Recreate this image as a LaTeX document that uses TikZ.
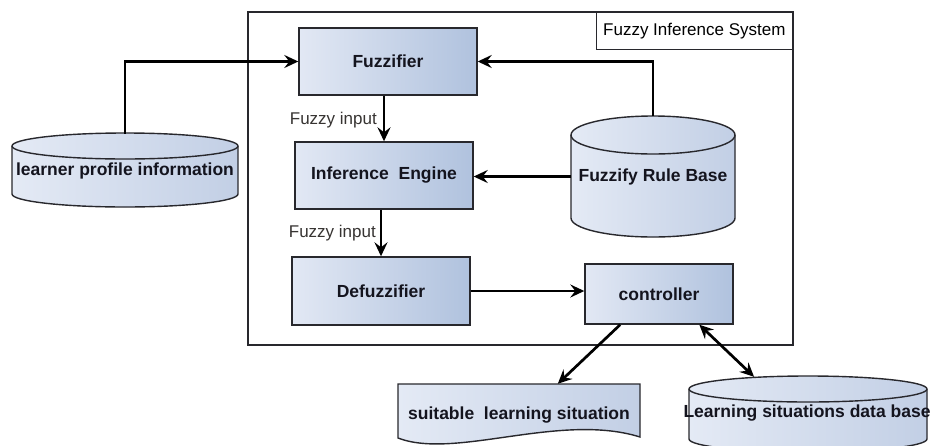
\documentclass[tikz,border=0pt]{standalone}
\usepackage{fontspec}
\setmainfont{Liberation Sans}
\usetikzlibrary{arrows.meta,calc}
\definecolor{boxL}{RGB}{226,232,244}
\definecolor{boxR}{RGB}{176,194,222}
\definecolor{cylL}{RGB}{228,234,245}
\definecolor{cylR}{RGB}{194,207,229}
\definecolor{edge}{RGB}{40,40,45}
\definecolor{txtc}{RGB}{20,20,30}
\definecolor{lblc}{RGB}{55,52,50}
\newcommand\mycylinder[6]{%
  \pgfmathsetmacro\cylcx{(#1+#2)/2}%
  \pgfmathsetmacro\cylkx{0.5523*(#2-#1)/2}%
  \pgfmathsetmacro\cylky{0.5523*#5}%
  \pgfmathsetmacro\cyltop{#3+#5}%
  \pgfmathsetmacro\cylbot{#4-#5}%
  \path[#6] (#1,\cyltop) -- (#1,\cylbot)
    .. controls (#1,\cylbot+\cylky) and (\cylcx-\cylkx,#4) .. (\cylcx,#4)
    .. controls (\cylcx+\cylkx,#4) and (#2,\cylbot+\cylky) .. (#2,\cylbot)
    -- (#2,\cyltop)
    .. controls (#2,\cyltop-\cylky) and (\cylcx+\cylkx,#3) .. (\cylcx,#3)
    .. controls (\cylcx-\cylkx,#3) and (#1,\cyltop-\cylky) .. (#1,\cyltop) -- cycle;
  \draw[edge,line width=1.4pt] (#1,\cyltop)
    .. controls (#1,\cyltop+\cylky) and (\cylcx-\cylkx,#3+2*#5) .. (\cylcx,#3+2*#5)
    .. controls (\cylcx+\cylkx,#3+2*#5) and (#2,\cyltop+\cylky) .. (#2,\cyltop);
}
\tikzset{
  fbox/.style={draw=edge, line width=1.4pt, left color=boxL, right color=boxR,
    inner sep=0pt, text=txtc, font=\fontsize{17.5}{20}\selectfont\bfseries},
  ctext/.style={inner sep=0pt, text=txtc, font=\fontsize{17.5}{20}\selectfont\bfseries},
  cylfill/.style={draw=edge, line width=1.4pt, left color=cylL, right color=cylR},
  lbl/.style={inner sep=0pt, text=lblc, font=\fontsize{17}{20}\selectfont},
  arr/.style={line width=2.7pt, -{Stealth[length=14pt,width=13pt,inset=5pt]}},
  darr/.style={line width=2.7pt, {Stealth[length=14pt,width=13pt,inset=5pt]}-{Stealth[length=14pt,width=13pt,inset=5pt]}}
}
\begin{document}
\begin{tikzpicture}[x=1pt,y=-1pt]
\useasboundingbox (0,0) rectangle (930,445);
\clip (0,0) rectangle (930,445);
\fill[white] (0,0) rectangle (930,445);
% outer system box
\draw[edge, line width=1.3pt] (248,12) rectangle (793,345);
\node[draw=edge, line width=1.3pt, fill=white, minimum width=196pt, minimum height=37pt,
  inner sep=0pt, font=\fontsize{17}{20}\selectfont, anchor=north east] (fis) at (793,12) {Fuzzy Inference System};
% boxes
\node[fbox, minimum width=178pt, minimum height=67pt] (fz) at (388,61.5) {Fuzzifier};
\node[fbox, minimum width=178pt, minimum height=67pt] (ie) at (384,175.5) {Inference\ \ Engine};
\node[fbox, minimum width=178pt, minimum height=68pt] (df) at (381,291) {Defuzzifier};
\node[fbox, minimum width=148pt, minimum height=60pt] (ct) at (659,294) {controller};
% cylinders
\mycylinder{571}{735}{116}{237}{19}{cylfill}
\node[ctext, minimum width=164pt, minimum height=121pt] (rb) at (653,176.5) {Fuzzify Rule Base};
\mycylinder{12}{238}{133}{207}{13}{cylfill}
\node[ctext, minimum width=226pt, minimum height=74pt] (lp) at (125,171) {learner profile information};
\mycylinder{689}{927}{376}{452}{13}{cylfill}
\node[ctext, minimum width=238pt, minimum height=74pt] (db) at (807,413) {Learning situations data base};
% document shape
\path[cylfill] (398,384) -- (640,384) -- (640,437)
  .. controls (560,412) and (455,460) .. (398,438) -- cycle;
\node[ctext, minimum width=242pt, minimum height=62pt] (doc) at (519,415) {suitable\ \ learning situation};
% labels
\node[lbl, anchor=east] (fi1) at (377,120) {Fuzzy input};
\node[lbl, anchor=east] (fi2) at (376,233) {Fuzzy input};
% connectors
\draw[arr] (lp.north) |- (fz.west);
\draw[arr] (rb.north) |- (fz.east);
\draw[arr] (fz.south -| ie.north) -- (ie.north);
\draw[arr] (ie.south -| df.north) -- (df.north);
\draw[arr] (rb.west) -- (rb.west -| ie.east);
\draw[arr] (df.east) -- (df.east -| ct.west);
\coordinate (ctA) at ($(ct.south west)!0.24!(ct.south east)$);
\coordinate (docA) at ($(doc.north west)!0.66!(doc.north east)$);
\draw[arr] (ctA) -- (docA);
\coordinate (ctB) at ($(ct.south west)!0.77!(ct.south east)$);
\coordinate (dbA) at ($(db.north west)!0.286!(db.north east)+(0,1)$);
\draw[darr] (ctB) -- (dbA);
\end{tikzpicture}
\end{document}
